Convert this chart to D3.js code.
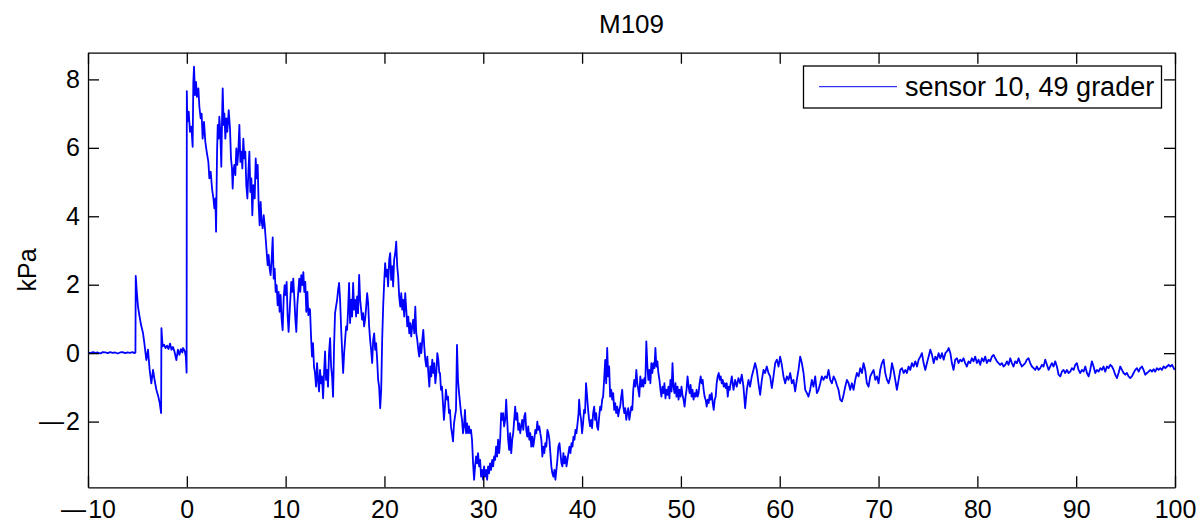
<!DOCTYPE html>
<html>
<head>
<meta charset="utf-8">
<script src="https://cdn.jsdelivr.net/npm/d3@7"></script>
<style>
  html, body { margin: 0; padding: 0; background: #fff; }
  svg { display: block; }
  text { font-family: "Liberation Sans", Arial, Helvetica, sans-serif; fill: #000; }
</style>
</head>
<body>
<svg id="chart" width="1201" height="525"></svg>
<script>
// ---- data: time (s) vs pressure (kPa) ----
const chartTitle = "M109";
const yLabel = "kPa";
const seriesName = "sensor 10, 49 grader";
const xTicks = [-10, 0, 10, 20, 30, 40, 50, 60, 70, 80, 90, 100];
const yTicks = [-2, 0, 2, 4, 6, 8];

const preTrigger = [[-10,0.02],[-9.75,0],[-9.5,0.03],[-9.25,0.01],[-9,0.02],[-8.75,-0.01],[-8.5,0.03],[-8.25,0.02],[-8,0],[-7.75,0.03],[-7.5,0.01],[-7.25,0.02],[-7,-0.01],[-6.75,0.02],[-6.5,0.03],[-6.25,0],[-6,0.02],[-5.75,0.01],[-5.5,0.03],[-5.3,0],[-5.2,0.02],[-5.17,2.26],[-5.05,1.75],[-4.94,1.36],[-4.8,1.1],[-4.65,0.85],[-4.43,0.58],[-4.3,0.3],[-4.2,0.05],[-4.1,-0.2],[-3.93,0.1],[-3.76,-0.49],[-3.59,-0.88],[-3.42,-0.49],[-3.25,-0.8],[-3.08,-1.07],[-2.9,-1.25],[-2.74,-1.46],[-2.6,-1.75],[-2.57,0.73],[-2.45,0.2],[-2.3,0.25],[-2.15,0.15],[-2,0.22],[-1.85,0.12],[-1.7,0.28],[-1.55,0.1],[-1.4,0.18],[-1.25,0.05],[-1.06,-0.2],[-0.9,0.1],[-0.75,-0.05],[-0.6,0.12],[-0.45,0.02],[-0.38,0.15],[-0.2,0.05],[-0.1,-0.1],[-0.02,-0.57]];

const peakPhase = [[0,7.66],[0.05,6.76],[0.19,7.06],[0.32,6.47],[0.46,6.62],[0.59,6.03],[0.66,7.93],[0.73,8.37],[0.83,7.54],[0.93,7.93],[1.03,7.49],[1.17,7.74],[1.27,7.2],[1.4,6.86],[1.5,7.0],[1.6,6.27],[1.74,6.76],[1.87,6.18],[2.01,5.89],[2.18,5.59],[2.28,5.11],[2.42,5.3],[2.55,4.81],[2.69,4.52],[2.79,4.23],[2.89,4.52],[2.96,3.55],[3.06,5.89],[3.13,6.67],[3.23,6.27],[3.29,6.91],[3.39,6.47],[3.49,5.45],[3.56,6.76],[3.63,7.74],[3.73,6.67],[3.8,7.0],[3.9,6.27],[4.0,6.86],[4.1,6.47],[4.24,7.1],[4.37,6.57],[4.47,5.69],[4.57,5.4],[4.64,4.81],[4.71,5.3],[4.81,5.5],[4.91,5.2],[5.01,5.98],[5.11,5.5],[5.21,5.89],[5.32,6.67],[5.42,5.59],[5.52,5.89],[5.62,5.4],[5.72,6.27],[5.82,5.69],[5.92,5.89],[6.02,4.91],[6.13,4.52],[6.23,5.3],[6.33,5.89],[6.43,4.71],[6.53,5.11],[6.63,4.03],[6.73,4.91],[6.87,4.52],[6.97,5.69],[7.07,5.11],[7.17,5.5],[7.27,4.33],[7.37,3.74],[7.47,4.42],[7.57,3.84],[7.68,3.65],[7.78,4.03],[7.88,3.74],[7.98,3.35],[8.08,2.96],[8.18,2.57],[8.28,2.87],[8.38,2.47],[8.48,2.28],[8.59,2.77],[8.69,3.38],[8.79,2.18],[8.89,2.47],[8.99,1.79],[9.09,1.99],[9.19,1.4],[9.29,1.79],[9.39,1.21],[9.49,1.7],[9.59,1.01],[9.7,0.67],[9.8,1.6],[9.9,1.99],[10.0,1.7],[10.1,2.08],[10.2,1.11],[10.3,0.62],[10.44,1.4],[10.57,2.08],[10.67,1.79],[10.77,2.18],[10.88,1.6],[10.98,1.01],[11.08,0.62],[11.18,1.4],[11.28,1.79],[11.38,2.18],[11.48,1.79],[11.58,2.28],[11.69,1.99],[11.79,2.37],[11.89,1.79],[11.99,2.08],[12.09,1.21],[12.2,1.79],[12.3,1.11],[12.4,1.3]];

const secondWave = [[12.47,1.27],[12.57,0.49],[12.67,-0.1],[12.77,0.29],[12.87,-0.39],[12.97,-0.58],[13.08,-0.98],[13.18,-0.29],[13.28,-0.78],[13.38,-1.12],[13.48,-0.49],[13.58,-0.88],[13.68,-0.68],[13.79,-1.32],[13.89,-0.58],[13.99,0.05],[14.09,-0.78],[14.19,-0.49],[14.29,-0.98],[14.39,0.0],[14.5,0.44],[14.6,-0.39],[14.7,-0.68],[14.8,-1.27],[14.9,0.19],[15.0,1.17],[15.1,1.36],[15.21,1.56],[15.31,1.85],[15.41,2.05],[15.51,1.56],[15.61,0.78],[15.71,0.1],[15.82,-0.58],[15.92,0.0],[16.02,0.39],[16.12,0.78],[16.22,0.68],[16.32,1.27],[16.42,2.05],[16.52,0.88],[16.63,1.56],[16.73,1.07],[16.83,2.05],[16.93,1.27],[17.03,1.56],[17.13,1.07],[17.23,1.66],[17.33,1.17],[17.44,2.29],[17.54,1.56],[17.64,1.27],[17.74,0.98],[17.84,1.17],[17.94,0.78],[18.04,0.98],[18.15,1.36],[18.25,1.75],[18.35,1.46],[18.45,0.78],[18.55,0.39],[18.65,0.1],[18.76,-0.29],[18.86,0.39],[18.96,0.58],[19.06,0.1],[19.16,0.29],[19.26,-0.19],[19.36,-0.78],[19.46,-0.98],[19.57,-1.61],[19.67,-1.07],[19.77,0.39],[19.87,1.36],[19.97,2.05],[20.07,2.63],[20.17,2.24],[20.27,2.44],[20.37,1.95],[20.48,2.73],[20.58,2.92],[20.68,2.14],[20.78,2.54],[20.88,1.95],[20.98,2.73],[21.09,2.92],[21.19,3.26],[21.29,2.54],[21.39,2.24],[21.49,1.66],[21.6,1.36],[21.7,1.75],[21.8,1.27],[21.9,1.56],[22.0,1.07],[22.1,1.75],[22.21,1.27],[22.31,0.78],[22.41,1.07],[22.51,0.58],[22.61,0.88],[22.71,0.49],[22.81,0.78],[22.91,0.98],[23.02,0.58],[23.12,1.36],[23.22,0.58],[23.32,0.39],[23.42,0.1],[23.52,-0.1],[23.62,0.29],[23.73,0.0],[23.83,0.39],[23.93,0.68],[24.03,0.19],[24.13,-0.19],[24.23,-0.39],[24.34,-0.1],[24.44,-0.58],[24.54,-0.98],[24.64,-0.39],[24.74,-0.68],[24.84,-0.19],[24.94,-0.58],[25.04,-0.29],[25.15,-0.88],[25.25,-0.58],[25.35,0.0],[25.45,-0.19],[25.55,-0.58]];

const troughPhase = [[25.62,-0.58],[25.72,-1.07],[25.82,-0.98],[25.92,-1.46],[26.02,-1.95],[26.12,-1.56],[26.22,-1.07],[26.33,-1.36],[26.43,-1.27],[26.53,-1.75],[26.63,-1.66],[26.73,-2.14],[26.83,-2.34],[26.94,-2.58],[27.04,-2.05],[27.14,-1.85],[27.24,-1.66],[27.34,0.24],[27.44,-0.78],[27.55,-1.17],[27.65,-1.46],[27.75,-1.75],[27.85,-1.95],[27.95,-2.34],[28.05,-2.14],[28.15,-1.66],[28.26,-2.34],[28.36,-2.05],[28.46,-2.34],[28.56,-2.14],[28.66,-2.34],[28.76,-2.24],[28.86,-2.53],[28.97,-3.22],[29.07,-3.7],[29.17,-3.31],[29.27,-3.02],[29.37,-3.22],[29.47,-2.92],[29.58,-3.31],[29.68,-3.12],[29.78,-3.61],[29.88,-3.41],[29.98,-3.7],[30.08,-3.31],[30.18,-3.61],[30.29,-3.41],[30.39,-3.7],[30.49,-3.31],[30.59,-3.51],[30.69,-3.22],[30.79,-3.41],[30.9,-3.12],[31.0,-3.31],[31.1,-3.02],[31.2,-3.12],[31.3,-2.73],[31.4,-3.02],[31.5,-2.53],[31.61,-2.92],[31.71,-2.53],[31.81,-1.75],[31.91,-1.95],[32.01,-1.75],[32.11,-2.14],[32.22,-1.95],[32.32,-1.36],[32.42,-1.95],[32.52,-2.53],[32.62,-2.83],[32.72,-2.34],[32.83,-2.92],[32.93,-2.53],[33.03,-2.34],[33.13,-1.95],[33.23,-1.56],[33.33,-1.95],[33.44,-1.75],[33.54,-2.24],[33.64,-2.05],[33.74,-2.34],[33.84,-2.14],[33.94,-1.95],[34.05,-2.24],[34.15,-1.85],[34.25,-1.75],[34.35,-2.24],[34.45,-2.44],[34.55,-2.14],[34.66,-2.53],[34.76,-2.34],[34.86,-2.73],[34.96,-2.44],[35.06,-2.73],[35.16,-2.53],[35.27,-2.24],[35.37,-2.34],[35.47,-2.0],[35.57,-2.24],[35.67,-2.14],[35.77,-2.34],[35.88,-2.53],[35.98,-3.02],[36.08,-2.73],[36.18,-2.92],[36.28,-2.63],[36.38,-2.73],[36.49,-2.24],[36.59,-2.34],[36.69,-2.53],[36.79,-2.92],[36.89,-3.31],[36.99,-3.51],[37.1,-3.61],[37.2,-3.41],[37.3,-3.7],[37.4,-3.41],[37.5,-3.12],[37.6,-2.73],[37.71,-2.63],[37.81,-2.92],[37.91,-3.22],[38.01,-3.31],[38.11,-2.92],[38.21,-3.22],[38.32,-3.02],[38.42,-3.31],[38.52,-3.12],[38.62,-2.92],[38.72,-2.73],[38.82,-2.92],[38.93,-2.63],[39.03,-2.73],[39.13,-2.44],[39.23,-2.53],[39.33,-2.24],[39.43,-2.34],[39.54,-2.05],[39.64,-1.75],[39.7,-1.36],[39.8,-1.75]];

const recoveryPhase = [[39.9,-1.95],[40.0,-2.34],[40.1,-2.05],[40.2,-1.66],[40.3,-1.75],[40.4,-0.88],[40.51,-1.27],[40.61,-1.66],[40.71,-1.95],[40.81,-2.14],[40.91,-1.95],[41.01,-2.19],[41.12,-1.75],[41.22,-1.56],[41.32,-1.95],[41.42,-1.75],[41.52,-2.14],[41.62,-2.24],[41.73,-1.85],[41.83,-1.56],[41.93,-1.66],[42.03,-1.36],[42.13,-1.27],[42.23,-0.78],[42.34,-0.2],[42.44,-0.88],[42.54,0.15],[42.64,-0.68],[42.74,-0.39],[42.84,-1.27],[42.95,-1.07],[43.05,-1.36],[43.15,-1.17],[43.25,-1.66],[43.35,-1.46],[43.45,-1.75],[43.56,-1.56],[43.66,-1.85],[43.76,-1.66],[43.86,-1.56],[43.96,-1.27],[44.06,-1.07],[44.17,-1.56],[44.27,-1.75],[44.37,-1.61],[44.47,-1.95],[44.57,-1.75],[44.67,-1.61],[44.78,-1.95],[44.88,-1.75],[44.98,-1.56],[45.08,-1.66],[45.18,-1.07],[45.28,-0.78],[45.39,-0.98],[45.49,-0.49],[45.59,-0.88],[45.69,-1.07],[45.79,-1.27],[45.89,-0.68],[46.0,-0.98],[46.1,-0.78],[46.2,-0.98],[46.3,-0.73],[46.4,-0.88],[46.5,0.34],[46.61,-0.39],[46.71,-0.78],[46.81,-0.49],[46.91,-0.88],[47.01,-0.29],[47.11,-0.58],[47.22,-0.29],[47.32,-0.44],[47.42,0.15],[47.52,-0.39],[47.62,-0.24],[47.72,-0.58],[47.83,-0.78],[47.93,-1.07],[48.03,-1.27],[48.13,-0.98],[48.23,-1.17],[48.33,-0.88],[48.44,-1.32],[48.54,-1.07],[48.64,-1.22],[48.74,-0.98],[48.84,-1.32],[48.94,-0.78],[49.05,-1.12],[49.15,-0.29],[49.25,-0.98],[49.35,-1.17],[49.45,-0.88],[49.55,-1.27],[49.66,-0.98],[49.76,-1.36],[49.86,-1.07],[49.96,-1.27],[50.06,-0.98],[50.16,-1.22],[50.27,-1.36],[50.37,-1.56],[50.47,-1.27],[50.57,-1.07],[50.67,-0.68],[50.78,-0.98],[50.88,-1.17],[50.98,-0.93],[51.08,-1.27],[51.18,-1.07],[51.28,-1.36],[51.39,-1.17],[51.49,-1.27],[51.59,-1.07],[51.69,-1.27],[51.79,-1.17],[51.89,-0.88],[52.0,-0.68],[52.1,-0.88],[52.2,-0.78],[52.3,-1.07],[52.4,-1.27],[52.5,-1.36],[52.61,-1.56],[52.71,-1.36],[52.81,-1.46],[52.91,-1.22],[53.01,-1.36],[53.11,-1.17],[53.22,-1.46],[53.32,-1.66],[53.42,-1.36],[53.52,-1.27],[53.62,-0.88],[53.72,-0.68],[53.83,-0.58],[53.93,-0.78],[54.03,-0.68],[54.13,-0.88],[54.23,-0.78],[54.33,-0.98],[54.44,-0.88],[54.54,-1.02],[54.64,-0.88],[54.74,-1.27],[54.84,-0.98],[54.94,-1.07]];

const settlingPhase = [[54.98,-0.98],[55.15,-0.68],[55.32,-1.07],[55.49,-0.78],[55.65,-0.98],[55.82,-0.73],[55.99,-0.88],[56.16,-0.63],[56.33,-0.98],[56.5,-1.61],[56.67,-1.07],[56.84,-0.78],[57.0,-0.98],[57.17,-0.68],[57.34,-0.49],[57.51,-0.29],[57.68,-0.49],[57.85,-0.88],[58.02,-1.22],[58.19,-0.78],[58.36,-0.49],[58.52,-0.58],[58.69,-0.39],[58.86,-0.58],[59.03,-0.68],[59.2,-1.02],[59.37,-0.68],[59.54,-0.29],[59.71,-0.19],[59.88,-0.39],[60.04,-0.1],[60.21,-0.34],[60.38,-0.68],[60.55,-0.88],[60.72,-0.68],[60.89,-0.78],[61.06,-0.58],[61.23,-0.88],[61.39,-0.78],[61.56,-1.12],[61.73,-0.78],[61.9,-0.49],[62.07,-0.1],[62.24,-0.29],[62.41,-0.58],[62.58,-1.07],[62.75,-1.17],[62.91,-1.27],[63.08,-1.07],[63.25,-0.78],[63.42,-0.98],[63.59,-0.68],[63.76,-1.17],[63.93,-1.07],[64.1,-0.88],[64.26,-0.68],[64.43,-0.78],[64.6,-0.68],[64.77,-0.73],[64.94,-0.49],[65.11,-0.78],[65.28,-0.88],[65.45,-0.68],[65.62,-0.78],[65.78,-0.93],[65.95,-1.07],[66.12,-1.36],[66.29,-1.41],[66.46,-1.22],[66.63,-0.98],[66.8,-0.78],[66.97,-0.88],[67.13,-1.07],[67.3,-0.88],[67.47,-1.07],[67.64,-0.78],[67.81,-0.58],[67.98,-0.68],[68.15,-0.44],[68.32,-0.58],[68.48,-0.29],[68.65,-0.49],[68.82,-0.88],[68.99,-0.98],[69.16,-0.68],[69.33,-0.58],[69.5,-0.49],[69.67,-0.78],[69.84,-0.68],[70.0,-0.88],[70.17,-0.49],[70.34,-0.29],[70.51,-0.19],[70.68,-0.58],[70.85,-0.78],[71.02,-0.88],[71.19,-0.68],[71.36,-0.29],[71.52,-0.49],[71.69,-0.78],[71.86,-1.07],[72.03,-0.78],[72.2,-0.49],[72.37,-0.44],[72.54,-0.58],[72.71,-0.49],[72.87,-0.58],[73.04,-0.39],[73.21,-0.49],[73.38,-0.29],[73.55,-0.39],[73.72,-0.24],[73.89,-0.39],[74.06,-0.19],[74.23,-0.1],[74.39,0.0],[74.56,-0.29],[74.73,-0.49],[74.9,-0.29],[75.07,-0.1],[75.24,0.1],[75.41,-0.05],[75.58,-0.29],[75.75,-0.1],[75.91,-0.19],[76.08,0.0],[76.25,-0.15],[76.42,0.0],[76.59,-0.19],[76.76,0.0],[76.93,0.05],[77.1,0.15],[77.27,0.0]];

const tailPhase = [[77.42,-0.29],[77.59,-0.49],[77.76,-0.19],[77.93,-0.15],[78.09,-0.29],[78.26,-0.19],[78.43,-0.24],[78.6,-0.15],[78.77,-0.29],[78.94,-0.39],[79.11,-0.24],[79.28,-0.29],[79.44,-0.15],[79.61,-0.24],[79.78,-0.1],[79.95,-0.29],[80.12,-0.19],[80.29,-0.34],[80.46,-0.15],[80.63,-0.24],[80.79,-0.1],[80.96,-0.29],[81.13,-0.19],[81.3,-0.24],[81.47,-0.1],[81.64,-0.05],[81.81,-0.15],[81.98,-0.24],[82.14,-0.29],[82.31,-0.34],[82.48,-0.29],[82.65,-0.39],[82.82,-0.34],[82.99,-0.24],[83.16,-0.34],[83.33,-0.15],[83.49,-0.29],[83.66,-0.39],[83.83,-0.24],[84.0,-0.29],[84.17,-0.15],[84.34,-0.29],[84.51,-0.39],[84.67,-0.34],[84.84,-0.29],[85.01,-0.19],[85.18,-0.15],[85.35,-0.29],[85.52,-0.39],[85.69,-0.44],[85.86,-0.49],[86.02,-0.39],[86.19,-0.49],[86.36,-0.44],[86.53,-0.34],[86.7,-0.39],[86.87,-0.19],[87.04,-0.34],[87.21,-0.49],[87.37,-0.39],[87.54,-0.29],[87.71,-0.39],[87.88,-0.24],[88.05,-0.39],[88.22,-0.63],[88.39,-0.68],[88.56,-0.54],[88.72,-0.49],[88.89,-0.58],[89.06,-0.49],[89.23,-0.58],[89.4,-0.54],[89.57,-0.44],[89.74,-0.49],[89.91,-0.34],[90.07,-0.29],[90.24,-0.49],[90.41,-0.58],[90.58,-0.49],[90.75,-0.54],[90.92,-0.39],[91.09,-0.58],[91.26,-0.68],[91.42,-0.49],[91.59,-0.24],[91.76,-0.39],[91.93,-0.58],[92.1,-0.49],[92.27,-0.54],[92.44,-0.44],[92.61,-0.49],[92.77,-0.39],[92.94,-0.54],[93.11,-0.39],[93.28,-0.44],[93.45,-0.34],[93.62,-0.39],[93.79,-0.49],[93.95,-0.63],[94.12,-0.73],[94.29,-0.58],[94.46,-0.39],[94.63,-0.49],[94.8,-0.58],[94.97,-0.63],[95.14,-0.58],[95.3,-0.68],[95.47,-0.73],[95.64,-0.68],[95.81,-0.58],[95.98,-0.49],[96.15,-0.44],[96.32,-0.54],[96.49,-0.44],[96.65,-0.39],[96.82,-0.49],[96.99,-0.63],[97.16,-0.58],[97.33,-0.54],[97.5,-0.49],[97.67,-0.54],[97.84,-0.47],[98.0,-0.54],[98.17,-0.44],[98.34,-0.49],[98.51,-0.44],[98.68,-0.49],[98.85,-0.39],[99.02,-0.44],[99.19,-0.39],[99.36,-0.34],[99.53,-0.39],[99.7,-0.34],[99.87,-0.44],[99.97,-0.49]];

const series = [].concat(preTrigger, peakPhase, secondWave, troughPhase, recoveryPhase, settlingPhase, tailPhase);

// ---- layout ----
const W = 1201, H = 525;
const plot = { left: 88, right: 1175, top: 52.7, bottom: 487.3 };
const FONT = 25;

const svg = d3.select("#chart");

const x = d3.scaleLinear().domain([-10, 100]).range([plot.left, plot.right]);
const y = d3.scaleLinear().domain([-3.92, 8.78]).range([plot.bottom, plot.top]);

svg.append("rect").attr("width", W).attr("height", H).attr("fill", "#fff");

svg.append("defs").append("clipPath").attr("id", "clip")
  .append("rect")
  .attr("x", plot.left).attr("y", plot.top)
  .attr("width", plot.right - plot.left).attr("height", plot.bottom - plot.top);

// data line
const line = d3.line().x(d => x(d[0])).y(d => y(d[1]));
svg.append("path")
  .datum(series)
  .attr("clip-path", "url(#clip)")
  .attr("fill", "none")
  .attr("stroke", "#0000ff")
  .attr("stroke-width", 1.8)
  .attr("stroke-linejoin", "round")
  .attr("d", line);

// axes (MATLAB style: inward ticks on all four sides, long minus sign)
const TICK = 11;
const fmt = d => d < 0 ? "\u2014\u200A" + Math.abs(d) : String(d);
function styleAxis(g) {
  g.selectAll("path.domain").attr("stroke", "#000").attr("stroke-width", 1.3);
  g.selectAll(".tick line").attr("stroke", "#000").attr("stroke-width", 1.3);
  g.selectAll(".tick text").attr("font-size", FONT)
    .attr("font-family", '"Liberation Sans", Arial, Helvetica, sans-serif').attr("fill", "#000");
}

svg.append("g").attr("transform", `translate(0,${plot.bottom})`)
  .call(d3.axisBottom(x).tickValues(xTicks).tickFormat(fmt).tickSizeInner(-TICK).tickSizeOuter(0).tickPadding(13))
  .call(styleAxis);
svg.append("g").attr("transform", `translate(0,${plot.top})`)
  .call(d3.axisTop(x).tickValues(xTicks).tickFormat("").tickSizeInner(-TICK).tickSizeOuter(0))
  .call(styleAxis);
svg.append("g").attr("transform", `translate(${plot.left},0)`)
  .call(d3.axisLeft(y).tickValues(yTicks).tickFormat(fmt).tickSizeInner(-TICK).tickSizeOuter(0).tickPadding(8))
  .call(styleAxis);
svg.append("g").attr("transform", `translate(${plot.right},0)`)
  .call(d3.axisRight(y).tickValues(yTicks).tickFormat("").tickSizeInner(-TICK).tickSizeOuter(0))
  .call(styleAxis);

// title
svg.append("text")
  .attr("x", (plot.left + plot.right) / 2).attr("y", 33)
  .attr("text-anchor", "middle").attr("font-size", 26)
  .text(chartTitle);

// y label
svg.append("text")
  .attr("transform", `translate(36,${(plot.top + plot.bottom) / 2}) rotate(-90)`)
  .attr("text-anchor", "middle").attr("font-size", FONT)
  .text(yLabel);

// legend
const lg = svg.append("g");
lg.append("rect")
  .attr("x", 803.5).attr("y", 66).attr("width", 358).attr("height", 42)
  .attr("fill", "#fff").attr("stroke", "#000").attr("stroke-width", 1.3);
lg.append("line")
  .attr("x1", 819).attr("x2", 897).attr("y1", 86.7).attr("y2", 86.7)
  .attr("stroke", "#0000ff").attr("stroke-width", 1);
lg.append("text")
  .attr("x", 905).attr("y", 96).attr("font-size", 27)
  .text(seriesName);
</script>
</body>
</html>
